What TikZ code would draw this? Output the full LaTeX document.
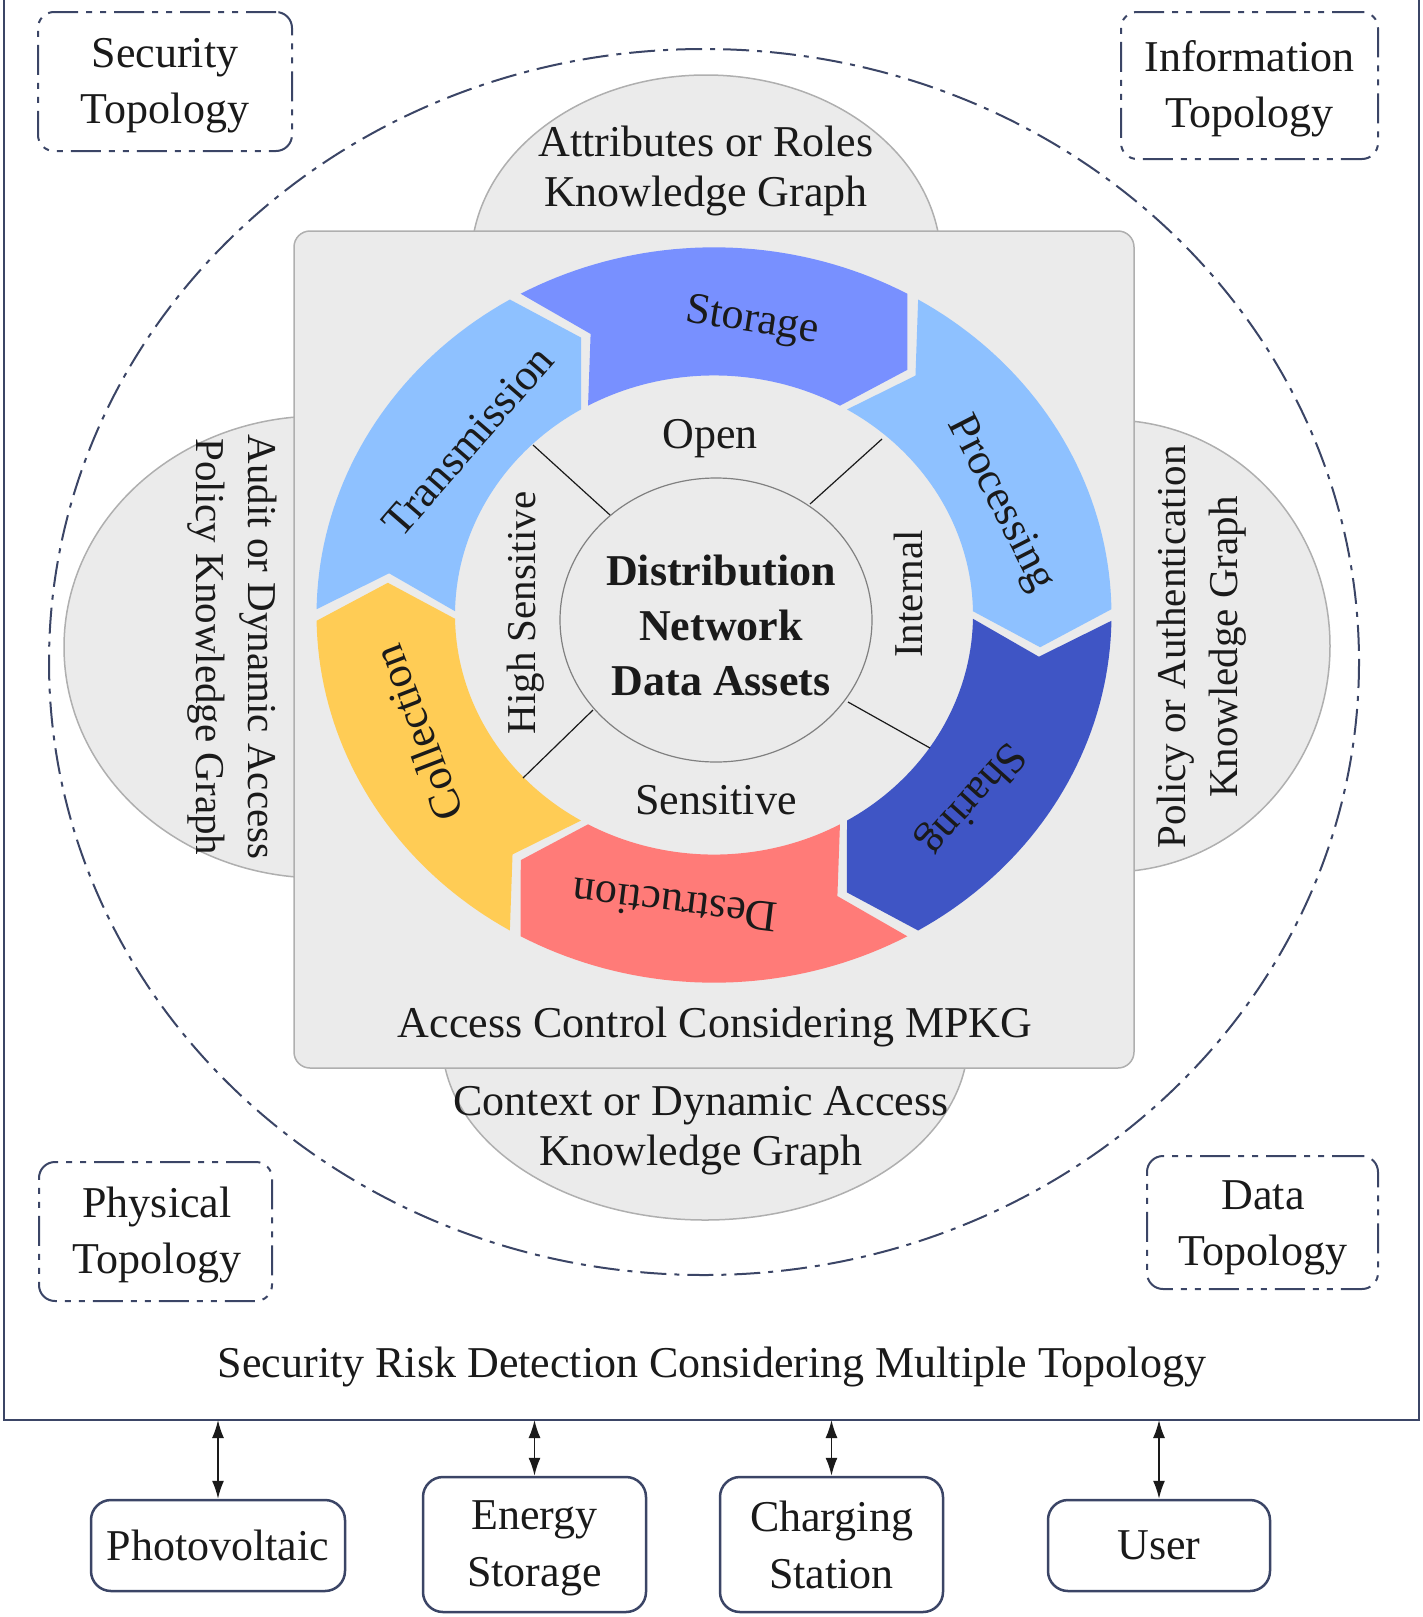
\documentclass[tikz,border=0pt]{standalone}
\usepackage{fontspec}
\setmainfont{Liberation Serif}
\usetikzlibrary{arrows.meta}
\definecolor{cStor}{HTML}{7890FF}
\definecolor{cProc}{HTML}{8EC1FF}
\definecolor{cShar}{HTML}{3F55C5}
\definecolor{cDest}{HTML}{FF7B78}
\definecolor{cColl}{HTML}{FFCC55}
\definecolor{cTran}{HTML}{8EC1FF}
\definecolor{panel}{HTML}{EBEBEB}
\definecolor{panelline}{HTML}{AFAFAF}
\definecolor{slate}{HTML}{3B4566}
\definecolor{ink}{HTML}{1A1A1A}
\def\cx{714}\def\cy{615}\def\Ro{397.5}\def\Ri{259}\def\Rm{328}\def\ys{0.925}
\def\sgG{0.9}\def\sgT{7}
\newcommand\ringseg[3]{%
  \pgfmathsetmacro\sgA{#2-\sgG}%
  \pgfmathsetmacro\sgB{#3+\sgG}%
  \pgfmathsetmacro\sgN{\sgA-\sgT}%
  \pgfmathsetmacro\sgH{\sgB-\sgT}%
  \fill[#1] plot[domain=\sgA:\sgB,samples=41] ({\cx+\Ro*cos(\x)},{\cy-\ys*\Ro*sin(\x)})
    -- ({\cx+\Rm*cos(\sgH)},{\cy-\ys*\Rm*sin(\sgH)})
    -- plot[domain=\sgB:\sgA,samples=41] ({\cx+\Ri*cos(\x)},{\cy-\ys*\Ri*sin(\x)})
    -- ({\cx+\Rm*cos(\sgN)},{\cy-\ys*\Rm*sin(\sgN)}) -- cycle;%
}
\tikzset{
  lbl/.style={font=\fontsize{44}{52}\selectfont, align=center, inner sep=0pt, text=ink},
  rlbl/.style={lbl, font=\fontsize{41}{52}\selectfont},
  toplbl/.style={lbl, font=\fontsize{44}{56}\selectfont},
  toponode/.style={draw=slate, line width=2pt, rounded corners=16pt, inner sep=0pt,
    dash pattern=on 30pt off 8pt on 6pt off 8pt on 6pt off 8pt},
  devbox/.style={draw=slate, line width=2.5pt, rounded corners=20pt, inner sep=0pt},
  dome/.style={fill=panel, draw=panelline, line width=1.5pt},
  link/.style={{Latex[length=18pt,width=12pt]}-{Latex[length=18pt,width=12pt]}, line width=1.6pt, draw=ink},
  divider/.style={draw=ink, line width=1.2pt}
}
\begin{document}
\begin{tikzpicture}[x=1pt,y=-1pt]
\useasboundingbox (0,0) rectangle (1423,1617);
% outer frame
\draw[slate, line width=2.5pt] (4,0) -- (4,1420) -- (1419,1420) -- (1419,0);
% big dash-dot ellipse
\draw[slate, line width=2pt, dash pattern=on 26pt off 8pt on 5pt off 8pt] (704,662) ellipse [x radius=655, y radius=613];
% domes
\fill[dome] (706,262) ellipse [x radius=235, y radius=187];
\fill[dome] (705,1040) ellipse [x radius=263, y radius=180];
\fill[dome] (320,647) ellipse [x radius=256, y radius=231];
\fill[dome] (1110,646) ellipse [x radius=220, y radius=226];
% central panel
\draw[fill=panel, draw=panelline, line width=1.5pt, rounded corners=16pt] (294,231) rectangle (1134,1068);
% ring
\ringseg{cStor}{120}{60}
\ringseg{cProc}{60}{0}
\ringseg{cShar}{0}{-60}
\ringseg{cDest}{-60}{-120}
\ringseg{cColl}{-120}{-180}
\ringseg{cTran}{180}{120}
% center circle and dividers
\draw[fill=panel, draw=gray, line width=1.2pt] (716,620) ellipse [x radius=156, y radius=142];
\draw[divider] (533,445) -- (610,515);
\draw[divider] (882,439) -- (810,504);
\draw[divider] (848,702) -- (930,748);
\draw[divider] (593,710) -- (523,778);
% center text
\node[lbl, font=\fontsize{44}{55}\selectfont\bfseries] (core) at (721,625) {Distribution\\Network\\Data Assets};
\node[lbl] (open) at (710,439) {Open};
\node[rlbl, rotate=90] (internal) at (908,594) {Internal};
\node[lbl] (sens) at (716,800) {Sensitive};
\node[rlbl, rotate=90] (high) at (526,613) {High Sensitive};
% ring labels
\node[lbl, rotate=-9] (storage) at (752,322) {Storage};
\node[lbl, rotate=-63] (processing) at (1000,504) {Processing};
\node[lbl, rotate=-132] (sharing) at (971,798) {Sharing};
\node[lbl, rotate=173] (destruction) at (675,905) {Destruction};
\node[lbl, rotate=111] (collection) at (418,733) {Collection};
\node[lbl, rotate=49] (transmission) at (468,441) {Transmission};
% panel caption
\node[lbl] (acc) at (715,1027) {Access Control Considering MPKG};
% dome labels
\node[lbl, font=\fontsize{44}{50}\selectfont] (kgtop) at (706,171) {Attributes or Roles\\Knowledge Graph};
\node[lbl, font=\fontsize{44}{50}\selectfont] (kgbot) at (701,1131) {Context or Dynamic Access\\Knowledge Graph};
\node[rlbl, rotate=-90] (kgleft) at (232,647) {Audit or Dynamic Access\\Policy Knowledge Graph};
\node[rlbl, rotate=90] (kgright) at (1202,647) {Policy or Authentication\\Knowledge Graph};
% topology boxes
\node[toponode, minimum width=254pt, minimum height=139pt] (sec) at (165,81.5) {};
\node[toplbl] (secT) at (165,86) {Security\\Topology};
\node[toponode, minimum width=257pt, minimum height=147pt] (info) at (1249.5,85.5) {};
\node[toplbl] (infoT) at (1249.5,89) {Information\\Topology};
\node[toponode, minimum width=233pt, minimum height=139pt] (phys) at (155.5,1231.5) {};
\node[toplbl] (physT) at (157,1235) {Physical\\Topology};
\node[toponode, minimum width=231pt, minimum height=133pt] (data) at (1262.5,1222.5) {};
\node[toplbl] (dataT) at (1263,1228) {Data\\Topology};
% frame caption
\node[lbl] (risk) at (712,1367) {Security Risk Detection Considering Multiple Topology};
% devices
\node[devbox, minimum width=254pt, minimum height=91pt] (pv) at (218,1545.5) {};
\node[lbl] (pvT) at (218,1545.5) {Photovoltaic};
\node[devbox, minimum width=223pt, minimum height=135pt] (es) at (534.5,1544.5) {};
\node[lbl, font=\fontsize{44}{57}\selectfont] (esT) at (534.5,1548.5) {Energy\\Storage};
\node[devbox, minimum width=223pt, minimum height=135pt] (cs) at (831.5,1544.5) {};
\node[lbl, font=\fontsize{44}{57}\selectfont] (csT) at (831.5,1544.5) {Charging\\Station};
\node[devbox, minimum width=222pt, minimum height=91pt] (user) at (1159,1545.5) {};
\node[lbl] (userT) at (1159,1545.5) {User};
% connectors
\coordinate (t1) at (218,1420);
\coordinate (t2) at (534.5,1420);
\coordinate (t3) at (831.5,1420);
\coordinate (t4) at (1159,1420);
\draw[link] (t1) -- (pv.north);
\draw[link] (t2) -- (es.north);
\draw[link] (t3) -- (cs.north);
\draw[link] (t4) -- (user.north);
\end{tikzpicture}
\end{document}
